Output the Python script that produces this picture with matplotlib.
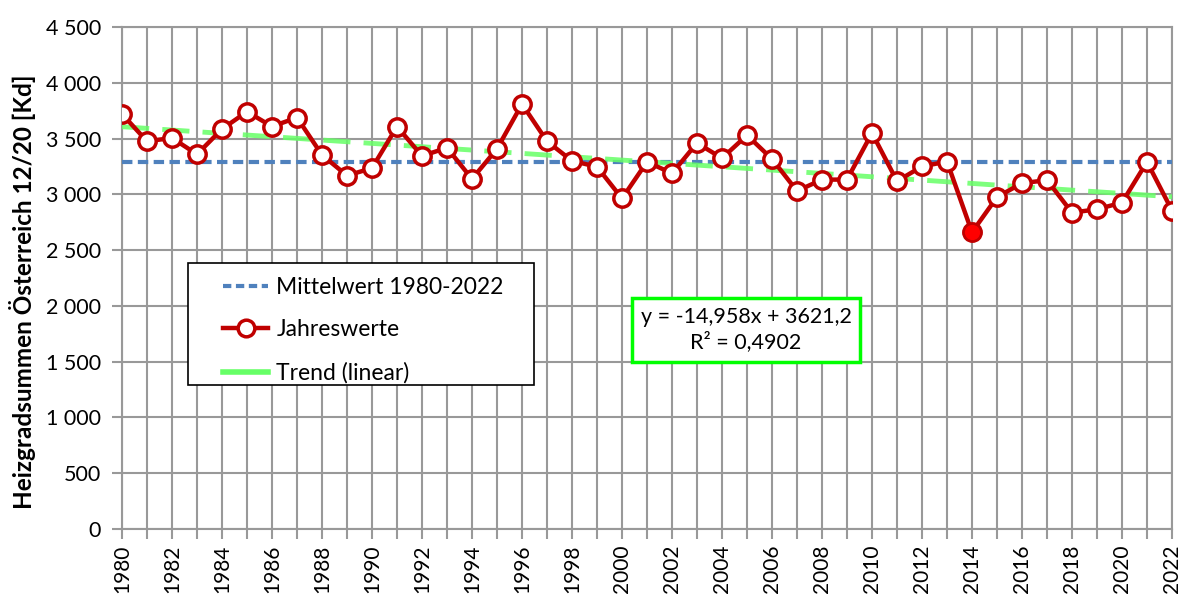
import numpy as np
import matplotlib
matplotlib.use("Agg")
import matplotlib.pyplot as plt
from matplotlib.lines import Line2D
from matplotlib.patches import Rectangle

years = list(range(1980, 2023))
values = [3720, 3476, 3505, 3359, 3585, 3741, 3608, 3688, 3353, 3168,
          3235, 3608, 3344, 3417, 3138, 3408, 3809, 3476, 3300, 3247,
          2963, 3291, 3188, 3460, 3324, 3530, 3317, 3030, 3132, 3132,
          3550, 3118, 3250, 3294, 2660, 2975, 3100, 3127, 2836, 2866,
          2926, 3291, 2855]
trend_slope = -14.958
trend_intercept = 3621.2
r_squared = "0,4902"
y_ticks = [0, 500, 1000, 1500, 2000, 2500, 3000, 3500, 4000, 4500]
y_ticklabels = ["0", "500", "1 000", "1 500", "2 000", "2 500", "3 000", "3 500", "4 000", "4 500"]
highlight_year = 2014

plt.rcParams['font.family'] = ['Lato', 'DejaVu Sans']

W, H = 1183, 594
fig = plt.figure(figsize=(W/100, H/100), dpi=100)
ax = fig.add_axes([122/W, 1 - 529/H, (1172-122)/W, (529-27)/H])

def ax_x(px):
    return (px - 122) / 1050
def ax_y(py):
    return (529 - py) / 502

grid_c = '#999999'
ax.set_xlim(years[0], years[-1])
ax.set_ylim(0, 4500)
ax.set_xticks(years)
ax.set_xticklabels([str(y) if y % 2 == 0 else '' for y in years], rotation=90, fontsize=15)
ax.set_yticks(y_ticks)
ax.set_yticklabels(y_ticklabels, fontsize=15.5)
ax.grid(True, color=grid_c, linewidth=1.5)
ax.set_axisbelow(True)
for s in ax.spines.values():
    s.set_color(grid_c)
    s.set_linewidth(1.5)
ax.tick_params(axis='both', color=grid_c, width=1.5, length=7)
ax.tick_params(axis='y', pad=8)
ax.tick_params(axis='x', pad=4)

mean_val = float(np.mean(values))
ax.plot([years[0], years[-1]], [mean_val, mean_val], color='#4F81BD', lw=3,
        dashes=(2.5, 1.3), zorder=3)

xs = np.arange(1, len(years) + 1)
trend = trend_slope * xs + trend_intercept
ax.plot(years, trend, color='#66FF66', lw=3.5, dashes=(5.6, 2.7), zorder=3, alpha=0.85)

ax.plot(years, values, color='#C00000', lw=3.2, marker='o', markersize=12.5,
        markerfacecolor='white', markeredgecolor='#C00000', markeredgewidth=2.5, zorder=4)
hi = years.index(highlight_year)
ax.plot([years[hi]], [values[hi]], marker='o', markersize=12.5, color='#FF0000',
        markeredgecolor='#C00000', markeredgewidth=1.5, zorder=5)

ax.set_ylabel('Heizgradsummen Österreich 12/20 [Kd]', fontsize=17.5, fontweight='bold')
ax.yaxis.set_label_coords(ax_x(36), ax_y(292))

# legend frame (fixed size box like the original)
lx0, lx1, ly0, ly1 = 188, 534, 263, 385
ax.add_patch(Rectangle((ax_x(lx0), ax_y(ly1)), ax_x(lx1) - ax_x(lx0), ax_y(ly0) - ax_y(ly1),
                       transform=ax.transAxes, facecolor='white', edgecolor='black',
                       linewidth=1.2, zorder=6))
handles = [
    Line2D([], [], color='#4F81BD', lw=3, dashes=(2, 1.1)),
    Line2D([], [], color='#C00000', lw=3.2, marker='o', markersize=12,
           markerfacecolor='white', markeredgecolor='#C00000', markeredgewidth=2.5),
    Line2D([], [], color='#66FF66', lw=4),
]
leg = ax.legend(handles, ['Mittelwert 1980-2022', 'Jahreswerte', 'Trend (linear)'],
                loc='upper left', bbox_to_anchor=(ax_x(218), ax_y(272)),
                fontsize=16.5, frameon=False, handlelength=2.0, labelspacing=0.95,
                borderpad=0.2, handletextpad=0.35, borderaxespad=0)
leg.set_zorder(7)

eq = f"y = {str(trend_slope).replace('.', ',')}x + {str(trend_intercept).replace('.', ',')}\nR² = {r_squared}"
ax.text(ax_x(746), ax_y(330), eq, transform=ax.transAxes, ha='center', va='center',
        fontsize=15.5, linespacing=1.25,
        bbox=dict(boxstyle='square,pad=0.42', facecolor='white', edgecolor='#00FF00', linewidth=2.5),
        zorder=6)

fig.savefig('out.png', dpi=100)
